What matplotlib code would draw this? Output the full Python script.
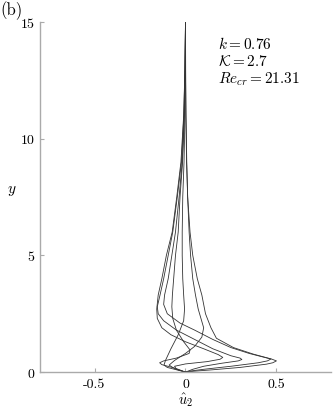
import matplotlib
matplotlib.use("Agg")
import matplotlib.pyplot as plt

# ---- data (u, y) ----
c1_u = [0, 0.0, 0.002, 0.006, 0.012, 0.025, 0.04, 0.065, 0.09, 0.11, 0.14, 0.17, 0.264, 0.373, 0.473, 0.50, 0.48, 0.445, 0.30, 0.15, 0.05, 0]
c1_y = [15, 13, 11, 9, 7.5, 6, 5, 4, 3.3, 2.5, 1.9, 1.45, 1.05, 0.77, 0.56, 0.48, 0.40, 0.34, 0.20, 0.10, 0.04, 0]

c2_u = [0, -0.002, -0.006, -0.018, -0.035, -0.055, -0.075, -0.095, -0.115, -0.12, -0.10, -0.03, 0.05, 0.15, 0.25, 0.35, 0.44, 0.47, 0.45, 0.40, 0.25, 0.10, 0.03, 0]
c2_y = [15, 13, 11, 9, 7.5, 6, 5, 4, 3.3, 2.9, 2.5, 2.1, 1.8, 1.4, 1.05, 0.8, 0.62, 0.56, 0.48, 0.40, 0.25, 0.12, 0.05, 0]

c3_u = [0, -0.003, -0.009, -0.022, -0.045, -0.07, -0.095, -0.12, -0.14, -0.155, -0.15, -0.12, -0.05, 0.05, 0.15, 0.25, 0.30, 0.31, 0.29, 0.20, 0.10, 0.04, 0]
c3_y = [15, 13, 11, 9, 7.5, 6, 5, 4, 3.3, 2.8, 2.5, 2.2, 1.8, 1.4, 1.0, 0.7, 0.6, 0.54, 0.48, 0.38, 0.25, 0.12, 0]

c4_u = [0, -0.003, -0.01, -0.025, -0.048, -0.073, -0.105, -0.13, -0.15, -0.158, -0.155, -0.13, -0.08, 0.0, 0.10, 0.18, 0.205, 0.19, 0.12, 0.0, -0.06, -0.05, 0]
c4_y = [15, 13, 11, 9, 7.5, 6, 5, 4, 3.3, 2.7, 2.3, 1.9, 1.6, 1.3, 1.0, 0.75, 0.63, 0.55, 0.45, 0.35, 0.25, 0.12, 0]

c5_u = [0, -0.002, -0.007, -0.016, -0.03, -0.04, -0.055, -0.065, -0.072, -0.075, -0.07, -0.05, -0.01, 0.025, 0.02, -0.05, -0.12, -0.142, -0.13, -0.05, 0]
c5_y = [15, 13, 11, 9, 7.5, 6, 5, 4, 3.3, 2.8, 2.3, 1.8, 1.3, 0.95, 0.8, 0.6, 0.48, 0.40, 0.32, 0.15, 0]

c6_u = [0, -0.001, -0.003, -0.008, -0.015, -0.018, -0.018, -0.015, -0.01, -0.005, -0.01, -0.04, -0.08, -0.11, -0.118, -0.10, -0.04, 0]
c6_y = [15, 13, 11, 9, 7.5, 6, 5, 4, 3.3, 2.7, 2.2, 1.6, 1.0, 0.5, 0.30, 0.2, 0.08, 0]

c7_u = [0, 0.001, 0.003, 0.007, 0.012, 0.02, 0.028, 0.04, 0.055, 0.07, 0.085, 0.10, 0.09, 0.05, 0.0, -0.06, -0.09, -0.06, 0]
c7_y = [15, 13, 11, 9, 7.5, 6, 5, 4, 3.3, 2.7, 2.3, 1.9, 1.5, 1.1, 0.8, 0.5, 0.3, 0.15, 0]

curves = [(c1_u, c1_y), (c2_u, c2_y), (c3_u, c3_y), (c4_u, c4_y),
          (c5_u, c5_y), (c6_u, c6_y), (c7_u, c7_y)]

x_ticks = [-0.5, 0, 0.5]
x_tick_labels = ["-0.5", "0", "0.5"]
y_ticks = [0, 5, 10, 15]
y_tick_labels = ["0", "5", "10", "15"]

plt.rcParams["font.family"] = "cmr10"
plt.rcParams["mathtext.fontset"] = "cm"
plt.rcParams["axes.unicode_minus"] = False

fig = plt.figure(figsize=(3.33, 4.10), dpi=100)
ax = fig.add_axes([0.12, 0.09, 0.874, 0.854])

for u, y in curves:
    ax.plot(u, y, color="#333333", lw=0.6)

ax.set_xlim(-0.8, 0.8)
ax.set_ylim(0, 15)
ax.set_xticks(x_ticks)
ax.set_xticklabels(x_tick_labels)
ax.set_yticks(y_ticks)
ax.set_yticklabels(y_tick_labels)
for s in ["top", "right"]:
    ax.spines[s].set_visible(False)
for s in ["left", "bottom"]:
    ax.spines[s].set_color("#aaaaaa")
    ax.spines[s].set_linewidth(1.0)
ax.tick_params(direction="in", length=3, color="#aaaaaa", labelsize=10, pad=4)

ax.set_xlabel(r"$\hat{u}_2$", fontsize=10.5, labelpad=0)
ax.set_ylabel(r"$y$", fontsize=11, rotation=0, labelpad=6)

ax.text(0.18, 14.1, r"$k = 0.76$", fontsize=11, va="center")
ax.text(0.18, 13.35, r"$\mathcal{K} = 2.7$", fontsize=11, va="center")
ax.text(0.18, 12.6, r"$Re_{cr} = 21.31$", fontsize=11, va="center")

fig.text(0.0, 0.998, "(b)", fontsize=12, va="top", ha="left")

fig.savefig("out.png", dpi=100)
